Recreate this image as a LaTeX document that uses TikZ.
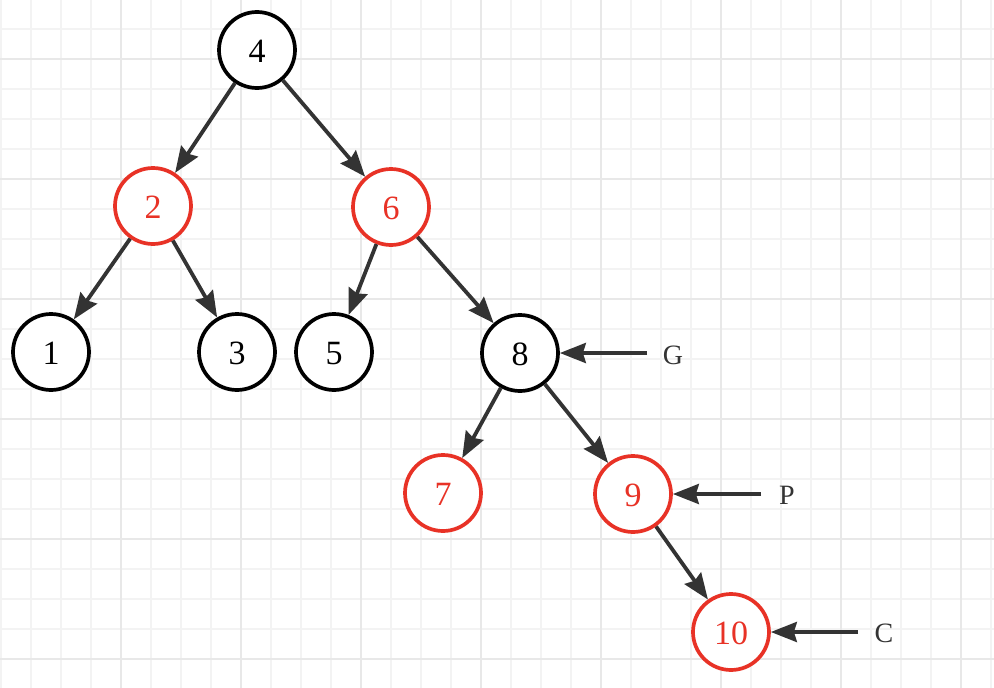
\documentclass[tikz,border=0pt]{standalone}
\usepackage{fontspec}
\setmainfont{Liberation Serif}
\usetikzlibrary{arrows.meta}
\definecolor{rbred}{RGB}{232,50,38}
\definecolor{edgegray}{RGB}{51,51,51}
\definecolor{gridminor}{RGB}{243,243,243}
\definecolor{gridmajor}{RGB}{232,232,232}
\tikzset{
  tnode/.style={circle,minimum size=76pt,inner sep=0pt,line width=3.7pt,fill=white,
    font=\fontsize{34}{40}\selectfont,text height=25pt,text depth=0pt},
  blk/.style={tnode,draw=black,text=black},
  red/.style={tnode,draw=rbred,text=rbred},
  edge/.style={draw=edgegray,line width=3.8pt,-{Stealth[length=26pt,width=20pt,inset=3pt]}},
  lbl/.style={font=\fontsize{28}{32}\selectfont,text=edgegray,inner sep=0pt,anchor=base}
}
\begin{document}
\begin{tikzpicture}[x=1pt,y=-1pt]
\useasboundingbox (0,0) rectangle (994,688);
\fill[white] (0,0) rectangle (994,688);
% grid
\foreach \k in {0,...,33} {\draw[gridminor,line width=2pt] ({1+30*\k},0) -- ({1+30*\k},688);}
\foreach \k in {0,...,22} {\draw[gridminor,line width=2pt] (0,{29+30*\k}) -- (994,{29+30*\k});}
\foreach \k in {0,...,7} {\draw[gridmajor,line width=2.5pt] ({121+120*\k},0) -- ({121+120*\k},688);}
\foreach \k in {0,...,5} {\draw[gridmajor,line width=2.5pt] (0,{59+120*\k}) -- (994,{59+120*\k});}
% nodes
\node[blk] (n4) at (257,50) {4};
\node[red] (n2) at (153,206) {2};
\node[red] (n6) at (391,207) {6};
\node[blk] (n1) at (51,352) {1};
\node[blk] (n3) at (237,352) {3};
\node[blk] (n5) at (334,352) {5};
\node[blk] (n8) at (520,353) {8};
\node[red] (n7) at (443,493) {7};
\node[red] (n9) at (633,494) {9};
\node[red] (n10) at (731,632) {10};
% edges
\draw[edge] (n4) -- (n2);
\draw[edge] (n4) -- (n6);
\draw[edge] (n2) -- (n1);
\draw[edge] (n2) -- (n3);
\draw[edge] (n6) -- (n5);
\draw[edge] (n6) -- (n8);
\draw[edge] (n8) -- (n7);
\draw[edge] (n8) -- (n9);
\draw[edge] (n9) -- (n10);
% pointer labels
\node[lbl] (g) at (673,364) {G};
\node[lbl] (p) at (787,504) {P};
\node[lbl] (c) at (884,642) {C};
\coordinate (gt) at (647,353);
\coordinate (pt) at (761,494);
\coordinate (ct) at (858,632);
\draw[edge] (gt) -- (n8);
\draw[edge] (pt) -- (n9);
\draw[edge] (ct) -- (n10);
\end{tikzpicture}
\end{document}
